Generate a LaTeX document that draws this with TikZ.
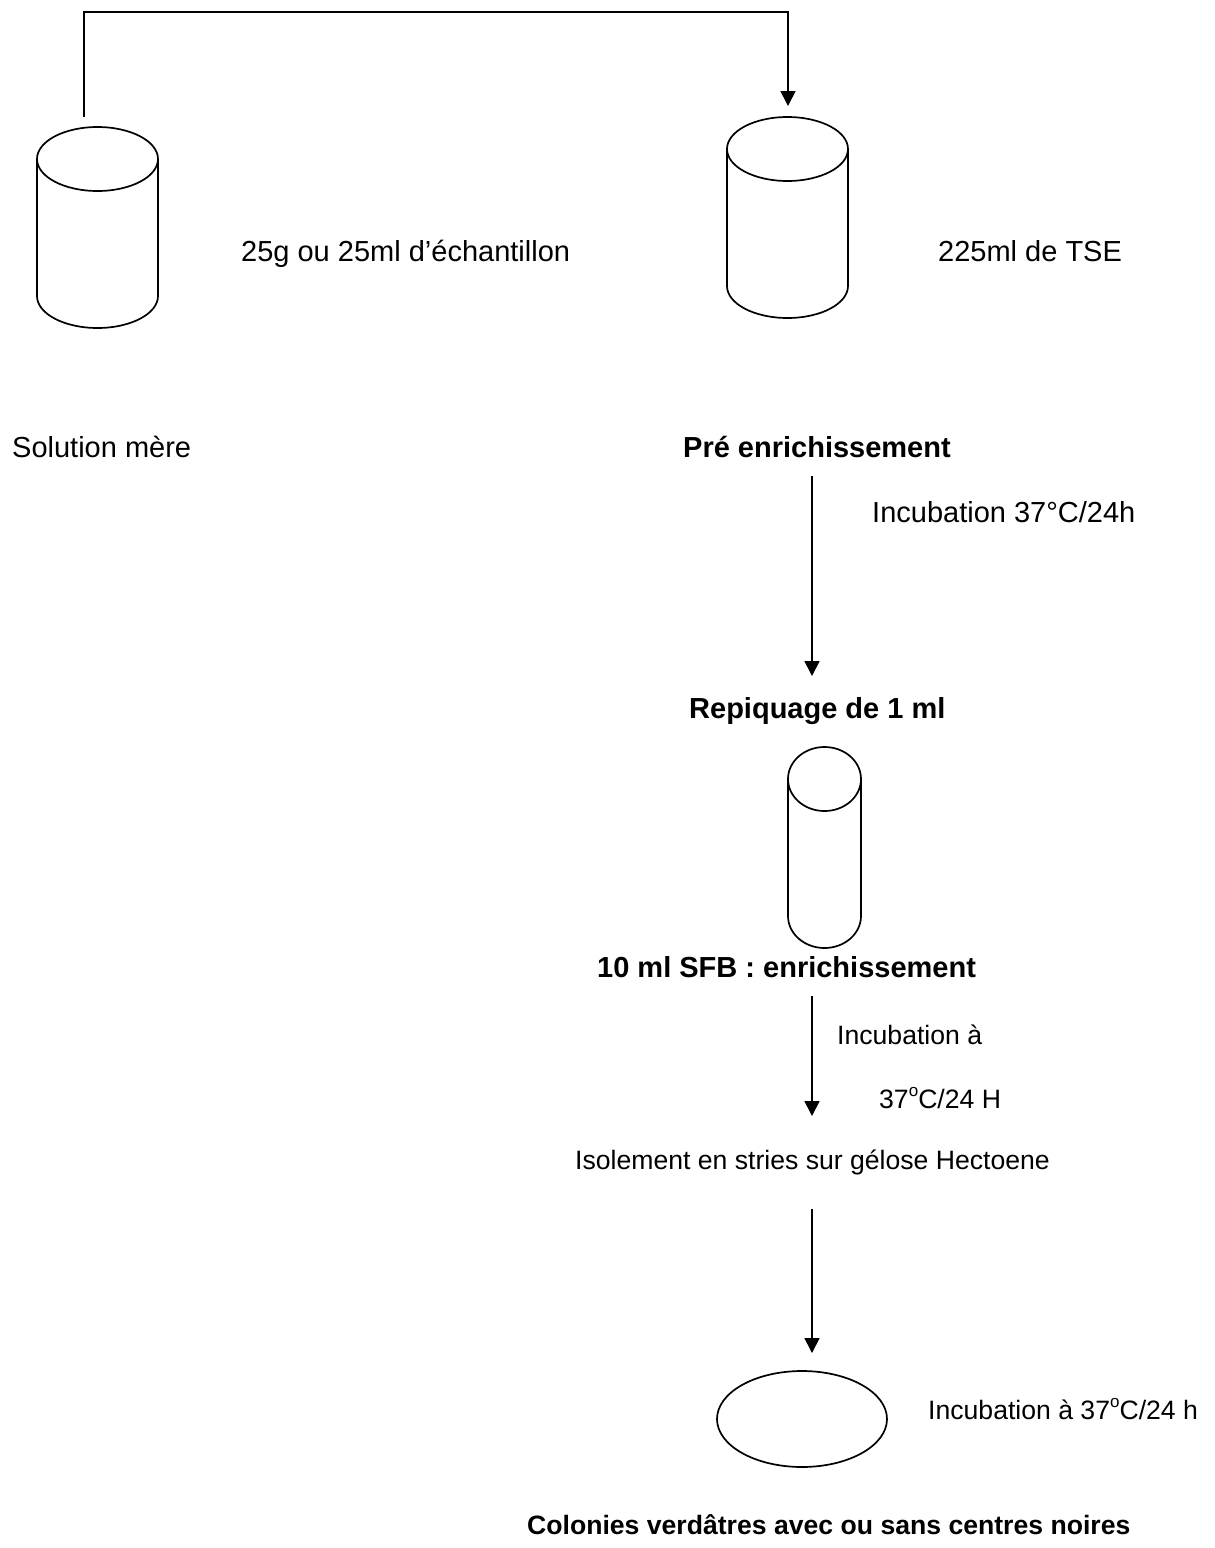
\documentclass[tikz,border=0pt]{standalone}
\usepackage{fontspec}
\setmainfont{Liberation Sans}
\usetikzlibrary{arrows.meta,shapes.geometric}
\tikzset{
  ln/.style={line width=1.7pt},
  arr/.style={ln,-{Triangle[width=15pt,length=15pt]}},
  txtL/.style={inner sep=0pt,anchor=base west,font=\fontsize{29}{34}\selectfont},
  txtS/.style={inner sep=0pt,anchor=base west,font=\fontsize{26.6}{32}\selectfont},
  txtLB/.style={txtL,font=\fontsize{29}{34}\selectfont\bfseries},
  txtSB/.style={txtS,font=\fontsize{26.6}{32}\selectfont\bfseries},
  plate/.style={draw,ln,ellipse,inner sep=0pt,minimum width=170pt,minimum height=96pt}
}
\newcommand{\degsup}{\raisebox{0.42em}{\fontsize{17}{17}\selectfont o}}
\begin{document}
\begin{tikzpicture}[x=1pt,y=-1pt]
\useasboundingbox[fill=white] (0,0) rectangle (1215,1548);

% left cylinder (sample)
\draw[ln] (37,159) -- (37,296) arc[start angle=180,end angle=360,x radius=60.5pt,y radius=32pt] -- (158,159);
\draw[ln] (97.5,159) ellipse [x radius=60.5pt,y radius=32pt];
% right cylinder (TSE)
\draw[ln] (727,149) -- (727,286) arc[start angle=180,end angle=360,x radius=60.5pt,y radius=32pt] -- (848,149);
\draw[ln] (787.5,149) ellipse [x radius=60.5pt,y radius=32pt];
% small tube (SFB)
\draw[ln] (788,779) -- (788,916) arc[start angle=180,end angle=360,x radius=36.5pt,y radius=32pt] -- (861,779);
\draw[ln] (824.5,779) ellipse [x radius=36.5pt,y radius=32pt];

% plate
\node[plate] (plate) at (802,1419) {};

% texts
\node[txtL] (t25g) at (241,261) {25g ou 25ml d’échantillon};
\node[txtL] (tTSE) at (938,261) {225ml de TSE};
\node[txtL] (tSol) at (12,457) {Solution mère};
\node[txtLB] (tPre) at (683,457) {Pré enrichissement};
\node[txtL] (tInc1) at (872,522) {Incubation 37°C/24h};
\node[txtLB] (tRep) at (689,718) {Repiquage de 1 ml};
\node[txtLB] (tSFB) at (597,977) {10 ml SFB : enrichissement};
\node[txtS] (tInc2) at (837,1044) {Incubation à};
\node[txtS] (t37) at (879,1108) {37\degsup C/24 H};
\node[txtS] (tIso) at (575,1169) {Isolement en stries sur gélose Hectoene};
\node[txtS] (tInc3) at (928,1419) {Incubation à 37\degsup C/24 h};
\node[txtSB] (tCol) at (527,1534) {Colonies verdâtres avec ou sans centres noires};

% connector endpoints
\coordinate (srcA) at (84,117);
\coordinate (dstB) at (788,106);
\coordinate (a1s) at (812,476);
\coordinate (a1e) at (812,676);
\coordinate (a2s) at (812,996);
\coordinate (a2e) at (812,1116);
\coordinate (a3s) at (812,1209);
\coordinate (a3e) at (812,1353);

\draw[arr] (srcA) -- ++(0,-105) -| (dstB);
\draw[arr] (a1s) -- (a1e);
\draw[arr] (a2s) -- (a2e);
\draw[arr] (a3s) -- (a3e);
\end{tikzpicture}
\end{document}
